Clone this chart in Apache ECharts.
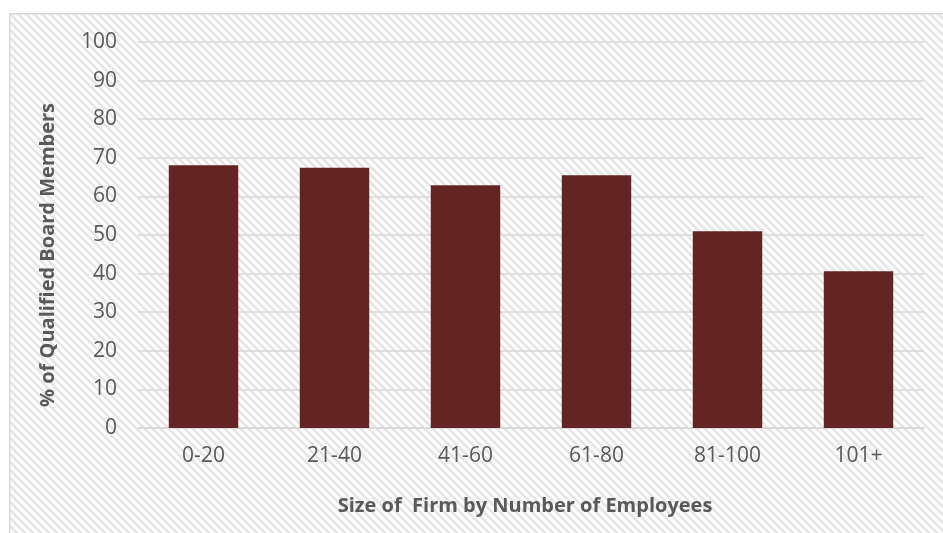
<!DOCTYPE html>
<html>
<head>
<meta charset="utf-8">
<script src="https://cdn.jsdelivr.net/npm/echarts@6/dist/echarts.min.js"></script>
<style>
  html, body { margin: 0; padding: 0; background: #fff; }
  #chart { width: 943px; height: 533px; }
</style>
</head>
<body>
<div id="chart"></div>
<script>
var categories = ['0-20', '21-40', '41-60', '61-80', '81-100', '101+'];
var boardValues = [68.1, 67.4, 62.9, 65.5, 51.0, 40.6];
var yTicks = { min: 0, max: 100, interval: 10 };

// diagonal hatch like the excel chart area
function makeHatch() {
    var c = document.createElement('canvas');
    c.width = 8; c.height = 8;
    var ctx = c.getContext('2d');
    ctx.fillStyle = '#ffffff';
    ctx.fillRect(0, 0, 8, 8);
    ctx.strokeStyle = '#e4e4e4';
    ctx.lineWidth = 2.5;
    ctx.beginPath();
    ctx.moveTo(-2, -2); ctx.lineTo(10, 10);
    ctx.moveTo(-2, 6); ctx.lineTo(2, 10);
    ctx.moveTo(6, -2); ctx.lineTo(10, 2);
    ctx.stroke();
    return c;
}

var chart = echarts.init(document.getElementById('chart'));
var txtColor = '#595959';
var font = 'Open Sans';

var option = {
    backgroundColor: '#ffffff',
    animation: false,
    graphic: [{
        type: 'rect',
        left: 9, top: 13,
        shape: { width: 940, height: 530 },
        style: { fill: { image: makeHatch(), repeat: 'repeat' }, stroke: '#d9d9d9', lineWidth: 1.5 },
        z: -10
    }],
    grid: { left: 138, right: 19, top: 42, bottom: 105 },
    xAxis: {
        type: 'category',
        data: categories,
        name: 'Size of  Firm by Number of Employees',
        nameLocation: 'middle',
        nameGap: 68,
        nameTextStyle: { color: txtColor, fontFamily: font, fontWeight: 'bold', fontSize: 20, padding: [0, 12, 0, 0] },
        axisLine: { lineStyle: { color: '#d9d9d9', width: 1.5 } },
        axisTick: { show: false },
        axisLabel: { color: txtColor, fontFamily: font, fontSize: 21, margin: 18 }
    },
    yAxis: {
        type: 'value',
        min: yTicks.min,
        max: yTicks.max,
        interval: yTicks.interval,
        name: '% of Qualified Board Members',
        nameLocation: 'middle',
        nameGap: 80,
        nameTextStyle: { color: txtColor, fontFamily: font, fontWeight: 'bold', fontSize: 20, padding: [0, 40, 0, 0] },
        axisLine: { show: false },
        axisTick: { show: false },
        axisLabel: { color: txtColor, fontFamily: font, fontSize: 21, margin: 21 },
        splitLine: { lineStyle: { color: '#d9d9d9', width: 1.5 } }
    },
    series: [{
        type: 'bar',
        data: boardValues,
        barWidth: '53%',
        itemStyle: { color: '#632523' }
    }]
};
chart.setOption(option);
</script>
</body>
</html>
